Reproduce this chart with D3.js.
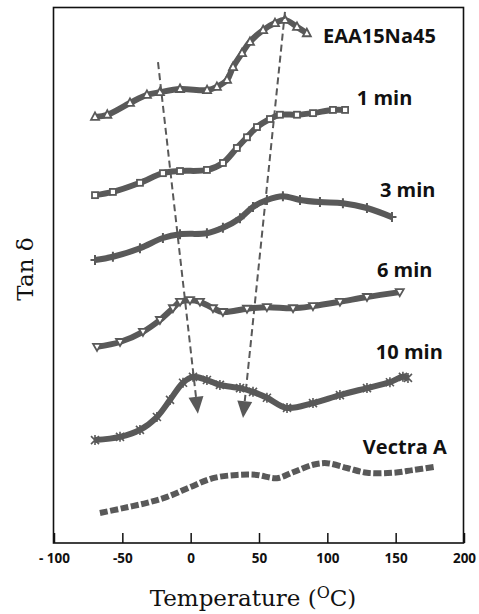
<!DOCTYPE html>
<html>
<head>
<meta charset="utf-8">
<script src="https://cdn.jsdelivr.net/npm/d3@7"></script>
<style>
  body { margin: 0; background: #fff; }
  svg { display: block; }
</style>
</head>
<body>
<svg id="svg" width="479" height="614"></svg>
<script>
// temperature (C) / tan delta (arbitrary, curves offset)
var eaa = [[-70,79.5],[-61,79.9],[-44.4,82.1],[-32,83.6],[-22.5,84.1],[-7.8,84.7],[12,84.5],[19.2,85.1],[26.6,86.4],[31,88.8],[37.6,91.4],[43.4,93.5],[53,95.7],[61.7,97.0],[69,97.6],[77.8,96.3],[85,95.1]];
var min1 = [[-70,64.9],[-56.9,65.5],[-37.1,67.2],[-20.3,69.0],[-7.8,69.4],[11.9,69.6],[23.6,70.9],[33.8,73.7],[41.2,75.7],[48.5,77.6],[58,79.1],[65.3,79.9],[77.8,79.9],[89.5,80.2],[104.1,80.8],[113,80.8]];
var min3 = [[-70,52.8],[-56.9,53.4],[-37.1,55.0],[-20.3,56.9],[-7.8,57.6],[11.9,57.8],[23.6,58.8],[36.1,60.6],[45.6,62.7],[55.8,64.0],[67.5,64.7],[80,64.0],[94.6,63.6],[111.4,63.4],[129,62.5],[147.3,60.8]];
var min6 = [[-68.5,36.6],[-51.7,37.5],[-34.9,39.4],[-22.5,41.6],[-13,43.8],[-7.8,45.0],[-0.5,45.3],[6.8,45.0],[16.3,43.8],[23.6,43.1],[41.2,43.7],[55.8,44.0],[74.9,43.8],[89.5,44.2],[109.2,45.0],[129,45.9],[153,46.8]];
var min10 = [[-70,19.2],[-51.7,19.8],[-37.1,21.1],[-24.7,23.5],[-15.1,26.7],[-5.6,29.9],[1.7,31.0],[11.9,30.4],[21.4,29.5],[36.1,28.9],[45.6,28.2],[55.8,27.1],[70.5,25.2],[89.5,26.1],[109.2,27.6],[129,28.9],[145.8,30.0],[155.3,31.0],[159,30.8]];
var vectra = [[-66.4,5.6],[-49.5,6.5],[-32,7.5],[-17.3,8.6],[-0.5,10.4],[16.3,12.1],[33.9,12.7],[48.5,12.7],[63.1,12.1],[74.9,13.2],[89.5,14.6],[99.7,14.9],[114.4,14.0],[129,13.1],[148,13.1],[162.6,13.6],[178.7,14.2]];

var seriesNames = ['EAA15Na45', '1 min', '3 min', '6 min', '10 min', 'Vectra A'];
var seriesData = [eaa, min1, min3, min6, min10, vectra];
var seriesMarks = ['tri', 'sq', 'plus', 'tridown', 'star', 'dash'];
// label anchor (left, baseline) in data units
var labelPos = [[96.8,93.3],[121.6,81.7],[138.5,64.6],[136.3,49.6],[135.5,34.3],[126,16.6]];

var xTicks = [-100, -50, 0, 50, 100, 150, 200];
// dashed guide lines with arrow heads: [from, to]
var guides = [[[-23.9,89.7],[5.3,24.1]], [[69,99.1],[38.3,23.3]]];

var grey = '#595959';

var svg = d3.select('svg');

var x = d3.scaleLinear().domain([-100, 200]).range([54, 464]);
var y = d3.scaleLinear().domain([0, 100]).range([543, 7]);

var line = d3.line()
    .x(function (d) { return x(d[0]); })
    .y(function (d) { return y(d[1]); })
    .curve(d3.curveCatmullRom);

// frame
svg.append('rect')
    .attr('x', 53.5)
    .attr('y', 7.5)
    .attr('width', 410)
    .attr('height', 535.5)
    .attr('fill', 'none')
    .attr('stroke', '#111')
    .attr('stroke-width', 1.6);

var xAxis = d3.axisBottom(x)
    .tickValues(xTicks)
    .tickSizeInner(-10)
    .tickSizeOuter(0)
    .tickPadding(10)
    .tickFormat(function (d) { return d == -100 ? '- 100' : d; });

var gx = svg.append('g')
    .attr('transform', 'translate(0,543)')
    .call(xAxis);
gx.select('.domain').remove();
gx.selectAll('line').attr('stroke', '#111').attr('stroke-width', 1.5);
gx.selectAll('text')
    .attr('fill', '#111')
    .style('font-family', 'Open Sans, sans-serif')
    .style('font-weight', 'bold')
    .style('font-size', '13.5px');

function marker(g, type, px, py) {
    if (type == 'tri') {
        g.append('path').attr('d', 'M' + px + ',' + (py - 4.5) + 'l4,7.5l-8,0z')
            .attr('fill', '#fff').attr('stroke', grey).attr('stroke-width', 1.8);
    } else if (type == 'tridown') {
        g.append('path').attr('d', 'M' + px + ',' + (py + 4) + 'l4,-7l-8,0z')
            .attr('fill', '#fff').attr('stroke', grey).attr('stroke-width', 1.8);
    } else if (type == 'sq') {
        g.append('rect').attr('x', px - 3).attr('y', py - 3).attr('width', 6).attr('height', 6)
            .attr('fill', '#fff').attr('stroke', grey).attr('stroke-width', 1.8);
    } else if (type == 'plus') {
        g.append('path').attr('d', 'M' + (px - 4.5) + ',' + py + 'h9M' + px + ',' + (py - 5) + 'v10')
            .attr('stroke', grey).attr('stroke-width', 2);
    } else if (type == 'star') {
        g.append('path').attr('d', 'M' + (px - 4) + ',' + (py - 4) + 'l8,8M' + (px - 4) + ',' + (py + 4) + 'l8,-8M' + px + ',' + (py - 5) + 'v10')
            .attr('stroke', grey).attr('stroke-width', 1.6);
    }
}

seriesData.forEach(function (data, i) {
    var g = svg.append('g').attr('class', 'series');
    var type = seriesMarks[i];
    g.append('path')
        .datum(data)
        .attr('d', line)
        .attr('fill', 'none')
        .attr('stroke', grey)
        .attr('stroke-width', 6)
        .attr('stroke-dasharray', type == 'dash' ? '8,2.5' : null);
    data.forEach(function (d) {
        marker(g, type, x(d[0]), y(d[1]));
    });

    svg.append('text')
        .attr('x', x(labelPos[i][0]))
        .attr('y', y(labelPos[i][1]))
        .attr('fill', '#111')
        .style('font-family', 'Open Sans, sans-serif')
        .style('font-weight', 'bold')
        .style('font-size', '20px')
        .text(seriesNames[i]);
});

// dashed guides + arrows
guides.forEach(function (gd) {
    var x1 = x(gd[0][0]), y1 = y(gd[0][1]), x2 = x(gd[1][0]), y2 = y(gd[1][1]);
    var ang = Math.atan2(y2 - y1, x2 - x1);
    var len = 17, half = 7.5;
    var bx = x2 - len * Math.cos(ang), by = y2 - len * Math.sin(ang);
    svg.append('line')
        .attr('x1', x1).attr('y1', y1)
        .attr('x2', bx).attr('y2', by)
        .attr('stroke', grey)
        .attr('stroke-width', 2)
        .attr('stroke-dasharray', '7,4');
    svg.append('path')
        .attr('d', 'M' + x2 + ',' + y2 +
            'L' + (bx + half * Math.sin(ang)) + ',' + (by - half * Math.cos(ang)) +
            'L' + (bx - half * Math.sin(ang)) + ',' + (by + half * Math.cos(ang)) + 'Z')
        .attr('fill', grey);
});

// axis titles
var xt = svg.append('text')
    .attr('x', 253)
    .attr('y', 606)
    .attr('text-anchor', 'middle')
    .attr('fill', '#111')
    .style('font-family', 'DejaVu Serif, serif')
    .style('font-size', '23px');
xt.append('tspan').text('Temperature (');
xt.append('tspan').attr('dy', -8).style('font-size', '16px').text('O');
xt.append('tspan').attr('dy', 8).text('C)');

svg.append('text')
    .attr('transform', 'translate(33,269) rotate(-90)')
    .attr('text-anchor', 'middle')
    .attr('fill', '#111')
    .style('font-family', 'DejaVu Serif, serif')
    .style('font-size', '23px')
    .text('Tan δ');
</script>
</body>
</html>
